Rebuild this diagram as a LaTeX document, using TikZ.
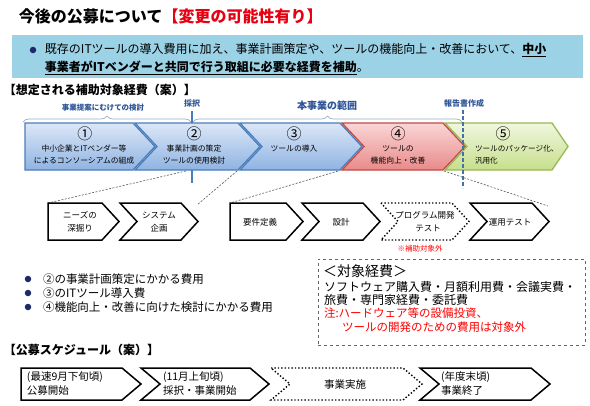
\documentclass[tikz,border=0pt]{standalone}
\usepackage{fontspec}
\setmainfont{Noto Sans CJK JP}
\usetikzlibrary{decorations.pathreplacing}
\definecolor{titlered}{HTML}{E60012}
\definecolor{boxblue}{HTML}{9CD2E6}
\definecolor{navy}{HTML}{1C2A6B}
\definecolor{lblblue}{HTML}{2E5597}
\definecolor{bluetop}{HTML}{DCE7F7}
\definecolor{bluebot}{HTML}{8FB3E2}
\definecolor{blueline}{HTML}{4A7EBB}
\definecolor{redtop}{HTML}{FAD6D6}
\definecolor{redbot}{HTML}{E98A8A}
\definecolor{redline}{HTML}{BE4B48}
\definecolor{greentop}{HTML}{F0F7DE}
\definecolor{greenbot}{HTML}{C6DF8C}
\definecolor{greenline}{HTML}{98B954}
\definecolor{bracecol}{HTML}{9AAFCB}
\definecolor{pured}{HTML}{FF0000}
\newcommand\fsz[1]{\fontsize{#1}{#1}\selectfont}
% flat-left chevron: x0 x1 ytop ybot point
\newcommand\chevF[5]{(#1,#3) -- (#2,#3) -- ({#2+#5},{(#3+#4)/2}) -- (#2,#4) -- (#1,#4) -- cycle}
% notched chevron: x0 x1 ytop ybot notch point
\newcommand\chevN[6]{(#1,#3) -- (#2,#3) -- ({#2+#6},{(#3+#4)/2}) -- (#2,#4) -- (#1,#4) -- ({#1+#5},{(#3+#4)/2}) -- cycle}
\tikzset{
  cblue/.style={draw=blueline, line width=1.3pt, top color=bluetop, bottom color=bluebot, line join=miter},
  cred/.style={draw=redline, line width=1.3pt, top color=redtop, bottom color=redbot, line join=miter},
  cgreen/.style={draw=greenline, line width=1.3pt, top color=greentop, bottom color=greenbot, line join=miter},
  subbox/.style={draw=black, line width=1.5pt, fill=white, line join=miter},
  subdot/.style={draw=black, line width=1.4pt, dotted, fill=white},
  conn/.style={draw=black!65, line width=0.6pt, dash pattern=on 2pt off 1.5pt},
  bracestyle/.style={draw=bracecol, line width=0.7pt, decorate, decoration={brace, amplitude=6pt}},
  tickline/.style={draw=blueline, line width=1.2pt},
  repline/.style={draw=blueline!90!black, line width=1.8pt, dash pattern=on 4pt off 2pt},
  lbl/.style={text=lblblue, font=\fsz{7.5}\bfseries},
  cnum/.style={font=\fsz{15}},
  ctext/.style={font=\fsz{7.8}},
  stext/.style={font=\fsz{8.5}},
  btext/.style={anchor=west, font=\fsz{11.5}},
  dotb/.style={circle, fill=navy, minimum size=6.5pt},
  ktext/.style={anchor=west, font=\fsz{12}},
  rtext/.style={anchor=west, font=\fsz{11.5}, text=pured},
  schtext/.style={anchor=west, font=\fsz{10.5}},
  head/.style={anchor=west, font=\fsz{12}\bfseries}
}
\begin{document}
\begin{tikzpicture}[x=1pt,y=-1pt, every node/.style={inner sep=0pt, outer sep=0pt}]
\useasboundingbox (0,0) rectangle (590,405);
\fill[white] (0,0) rectangle (590,405);

% title
\node[anchor=west, font=\fsz{16}\bfseries] (title) at (19,16) {今後の公募について\textcolor{titlered}{【変更の可能性有り】}};

% info box
\node[fill=boxblue, minimum width=571pt, minimum height=43pt, anchor=north west] (infobox) at (12,35) {};
\node[dotb] (b0) at (33,50) {};
\node[ktext] (l1) at (45,50) {既存のITツールの導入費用に加え、事業計画策定や、ツールの機能向上・改善において、\textbf{\underline{中小}}};
\node[ktext] (l2) at (45,68) {\textbf{\underline{事業者がITベンダーと共同で行う取組に必要な経費を補助}}。};

% heading 1
\node[head] (h1) at (4,90) {【想定される補助対象経費（案）】};

% brace labels
\node[lbl] (lb1) at (103,108) {事業提案にむけての検討};
\node[lbl, font=\fsz{8}\bfseries] (lb2) at (192,103) {採択};
\node[lbl, font=\fsz{10}\bfseries] (lb3) at (327,106) {本事業の範囲};
\node[lbl, font=\fsz{8}\bfseries] (lb4) at (464,103) {報告書作成};

\coordinate (br1a) at (23,122);
\coordinate (br1b) at (191,122);
\coordinate (br2a) at (193,122);
\coordinate (br2b) at (462,122);
\draw[bracestyle] (br1a) -- (br1b);
\draw[bracestyle] (br2a) -- (br2b);

\coordinate (tk1) at (192,111);
\coordinate (tk2) at (192,183);
\draw[tickline] (tk1) -- (tk2);

% main chevrons
\draw[cblue] \chevF{25}{133}{123}{170}{22};
\draw[cblue] \chevN{135}{238}{123}{170}{22}{22};
\draw[cblue] \chevN{240}{340}{123}{170}{22}{22};
\draw[cred] \chevN{342}{443}{123}{170}{22}{22};
\draw[cgreen] \chevN{445}{552}{123}{170}{22}{16};

\node[cnum] (n1) at (85,134) {①};
\node[ctext] (t1a) at (84,149) {中小企業とITベンダー等};
\node[ctext] (t1b) at (84,161) {によるコンソーシアムの組成};
\node[cnum] (n2) at (194,134) {②};
\node[ctext] (t2a) at (194,149) {事業計画の策定};
\node[ctext] (t2b) at (194,161) {ツールの使用検討};
\node[cnum] (n3) at (294,134) {③};
\node[ctext] (t3a) at (294,149) {ツールの導入};
\node[cnum] (n4) at (398,134) {④};
\node[ctext] (t4a) at (398,149) {ツールの};
\node[ctext] (t4b) at (398,161) {機能向上・改善};
\node[cnum] (n5) at (503,134) {⑤};
\node[ctext, anchor=west, font=\fsz{7.6}] (t5a) at (475,149) {ツールのパッケージ化、};
\node[ctext, anchor=west, font=\fsz{7.6}] (t5b) at (475,161) {汎用化};

\coordinate (rp1) at (463,110);
\coordinate (rp2) at (463,188);
\draw[repline] (rp1) -- (rp2);

% connectors
\coordinate (c2a) at (186,171);
\coordinate (c2b) at (237,171);
\coordinate (c3b) at (338,171);
\coordinate (c4b) at (444,171);
\coordinate (s1tl) at (48,203);
\coordinate (e2) at (197,205);
\coordinate (s3tl) at (230,203);
\coordinate (e4) at (548,206);
\draw[conn] (c2a) -- (s1tl);
\draw[conn] (c2b) -- (e2);
\draw[conn] (c3b) -- (s3tl);
\draw[conn] (c4b) -- (e4);

% sub chevrons
\draw[subbox] \chevF{48}{102}{203}{240}{17};
\draw[subbox] \chevN{120}{181}{203}{240}{17}{17};
\draw[subbox] \chevF{230}{286}{203}{240}{17};
\draw[subbox] \chevN{302}{363}{203}{240}{17}{17};
\draw[subdot] \chevN{381}{452}{203}{240}{17}{17};
\draw[subbox] \chevN{470}{532}{203}{240}{17}{17};

\node[stext] (s1a) at (80,215) {ニーズの};
\node[stext] (s1b) at (80,228) {深掘り};
\node[stext] (s2a) at (159,215) {システム};
\node[stext] (s2b) at (159,228) {企画};
\node[stext] (s3) at (260,222) {要件定義};
\node[stext] (s4) at (341,222) {設計};
\node[stext] (s5a) at (425,215) {プログラム開発};
\node[stext] (s5b) at (428,228) {テスト};
\node[stext] (s6) at (510,222) {運用テスト};
\node[font=\fsz{7.5}, text=pured] (excl) at (420,249) {※補助対象外};

% bullet list
\node[dotb] (b1) at (28,279) {};
\node[dotb] (b2) at (28,293) {};
\node[dotb] (b3) at (28,307) {};
\node[btext] (bt1) at (43,279) {②の事業計画策定にかかる費用};
\node[btext] (bt2) at (43,293) {③のITツール導入費};
\node[btext] (bt3) at (43,307) {④機能向上・改善に向けた検討にかかる費用};

% cost box
\node[draw=black!60, dashed, line width=0.7pt, minimum width=267pt, minimum height=86pt, anchor=north west] (costbox) at (318,259) {};
\node[ktext, font=\fsz{14}] (k0) at (323,271) {＜対象経費＞};
\node[ktext] (k1) at (324,287) {ソフトウェア購入費・月額利用費・会議実費・};
\node[ktext] (k2) at (324,300) {旅費・専門家経費・委託費};
\node[rtext] (k3) at (324,313) {注:ハードウェア等の設備投資、};
\node[rtext] (k4) at (342,327) {ツールの開発のための費用は対象外};

% schedule
\node[head] (h2) at (4,350) {【公募スケジュール（案）】};
\draw[subbox] \chevF{21}{122}{368}{400}{19};
\draw[subbox] \chevN{141}{250}{368}{400}{19}{19};
\draw[subdot] \chevN{271}{403}{368}{400}{19}{19};
\draw[subbox] \chevN{420}{531}{368}{400}{19}{19};
\node[schtext] (sa1) at (27,377) {(最速9月下旬頃)};
\node[schtext] (sa2) at (27,391) {公募開始};
\node[schtext] (sb1) at (163,377) {(11月上旬頃)};
\node[schtext] (sb2) at (163,391) {採択・事業開始};
\node[font=\fsz{10.5}] (sc) at (345,385) {事業実施};
\node[schtext] (sd1) at (441,377) {(年度末頃)};
\node[schtext] (sd2) at (441,391) {事業終了};
\end{tikzpicture}
\end{document}
